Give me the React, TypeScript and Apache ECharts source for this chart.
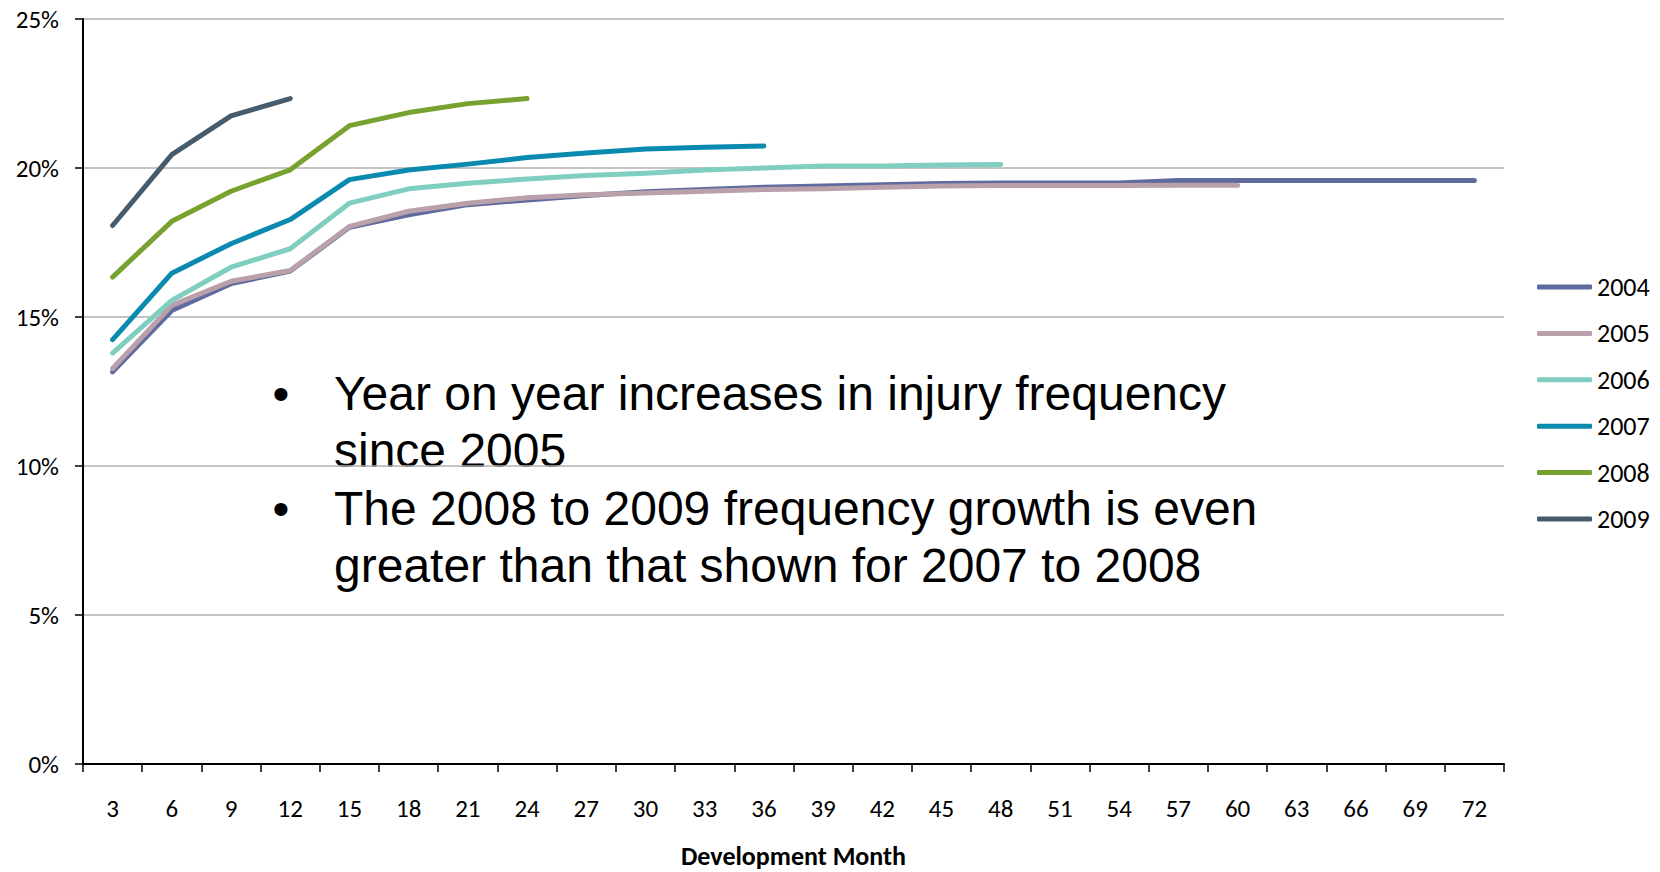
import React, { useEffect, useRef } from "react";
import * as echarts from "echarts";

const months = ["3","6","9","12","15","18","21","24","27","30","33","36","39","42","45","48","51","54","57","60","63","66","69","72"];
const yTicks = [0, 5, 10, 15, 20, 25];
const seriesNames = ["2004", "2005", "2006", "2007", "2008", "2009"];
const seriesColors = ["#5F6B9E", "#B9A0AA", "#7FCEC0", "#0A8AAF", "#78A22F", "#465C6C"];

const v2004 = [13.16, 15.22, 16.12, 16.54, 18.01, 18.43, 18.77, 18.93, 19.08, 19.2, 19.28, 19.35, 19.4, 19.44, 19.48, 19.5, 19.5, 19.5, 19.58, 19.58, 19.58, 19.58, 19.58, 19.58];
const v2005 = [13.27, 15.39, 16.2, 16.56, 18.04, 18.55, 18.82, 19.0, 19.1, 19.16, 19.22, 19.28, 19.3, 19.35, 19.4, 19.41, 19.41, 19.41, 19.42, 19.42];
const v2006 = [13.79, 15.56, 16.67, 17.29, 18.82, 19.3, 19.49, 19.63, 19.75, 19.82, 19.93, 20.0, 20.07, 20.07, 20.1, 20.12];
const v2007 = [14.24, 16.47, 17.46, 18.27, 19.61, 19.93, 20.13, 20.35, 20.5, 20.64, 20.7, 20.74];
const v2008 = [16.34, 18.21, 19.22, 19.94, 21.42, 21.86, 22.16, 22.33];
const v2009 = [18.07, 20.45, 21.75, 22.33];

const bulletLines = [
  { bullet: true, text: "Year on year increases in injury frequency" },
  { bullet: false, text: "since 2005" },
  { bullet: true, text: "The 2008 to 2009 frequency growth is even" },
  { bullet: false, text: "greater than that shown for 2007 to 2008" },
];

const allValues = [v2004, v2005, v2006, v2007, v2008, v2009];

export default function App() {
  const ref = useRef<HTMLDivElement>(null);
  useEffect(() => {
    if (!ref.current) return;
    document.body.style.margin = "0";
    document.body.style.overflow = "hidden";
    const chart = echarts.init(ref.current, null, { renderer: "svg" });
    const labelFont = "Carlito, Lato, 'Open Sans', sans-serif";
    const lineYs = [393, 450, 508, 565];
    const graphics: any[] = [];
    bulletLines.forEach((l, i) => {
      if (l.bullet) {
        graphics.push({
          type: "text",
          x: 281,
          y: lineYs[i],
          style: {
            text: "•",
            font: "48px 'Liberation Sans', Arial, sans-serif",
            fill: "#000",
            textAlign: "center",
            textVerticalAlign: "middle",
          },
        });
      }
      graphics.push({
        type: "text",
        x: 334,
        y: lineYs[i],
        style: {
          text: l.text,
          font: "48px 'Liberation Sans', Arial, sans-serif",
          fill: "#000",
          textAlign: "left",
          textVerticalAlign: "middle",
        },
      });
    });

    chart.setOption({
      animation: false,
      backgroundColor: "#fff",
      grid: { left: 83, right: 156, top: 19, bottom: 108, containLabel: false, outerBoundsMode: "none" },
      legend: {
        orient: "vertical",
        left: 1537,
        top: 274,
        padding: 0,
        itemWidth: 55,
        itemHeight: 5,
        itemGap: 20.4,
        icon: "roundRect",
        textStyle: { fontFamily: labelFont, fontSize: 26, color: "#000" },
        data: seriesNames,
      },
      xAxis: {
        type: "category",
        data: months,
        boundaryGap: true,
        name: "Development Month",
        nameLocation: "middle",
        nameGap: 79,
        nameTextStyle: { fontFamily: labelFont, fontSize: 26, fontWeight: "bold", color: "#000" },
        axisLine: { show: true, lineStyle: { color: "#000", width: 2 } },
        axisTick: { show: true, alignWithLabel: false, length: 8, lineStyle: { color: "#000", width: 1.5 } },
        axisLabel: { interval: 0, margin: 32, fontFamily: labelFont, fontSize: 25, color: "#000" },
        splitLine: { show: false },
      },
      yAxis: {
        type: "value",
        min: 0,
        max: 25,
        interval: 5,
        axisLine: { show: true, lineStyle: { color: "#000", width: 2 } },
        axisTick: { show: true, length: 8, lineStyle: { color: "#000", width: 1.5 } },
        axisLabel: {
          margin: 24,
          fontFamily: labelFont,
          fontSize: 25,
          color: "#000",
          formatter: (v: number) => (yTicks.includes(v) ? v + "%" : ""),
        },
        splitLine: { show: true, lineStyle: { color: "#B0B0B0", width: 1.5 } },
      },
      series: seriesNames.map((name, i) => ({
        name,
        type: "line",
        data: allValues[i],
        showSymbol: false,
        symbol: "none",
        smooth: false,
        color: seriesColors[i],
        lineStyle: { color: seriesColors[i], width: 5, cap: "round", join: "round" },
        itemStyle: { color: seriesColors[i] },
        z: 2 + i,
      })),
      graphic: graphics,
    });
    return () => chart.dispose();
  }, []);
  return <div ref={ref} style={{ position: "absolute", left: 0, top: 0, width: 1660, height: 872 }} />;
}
